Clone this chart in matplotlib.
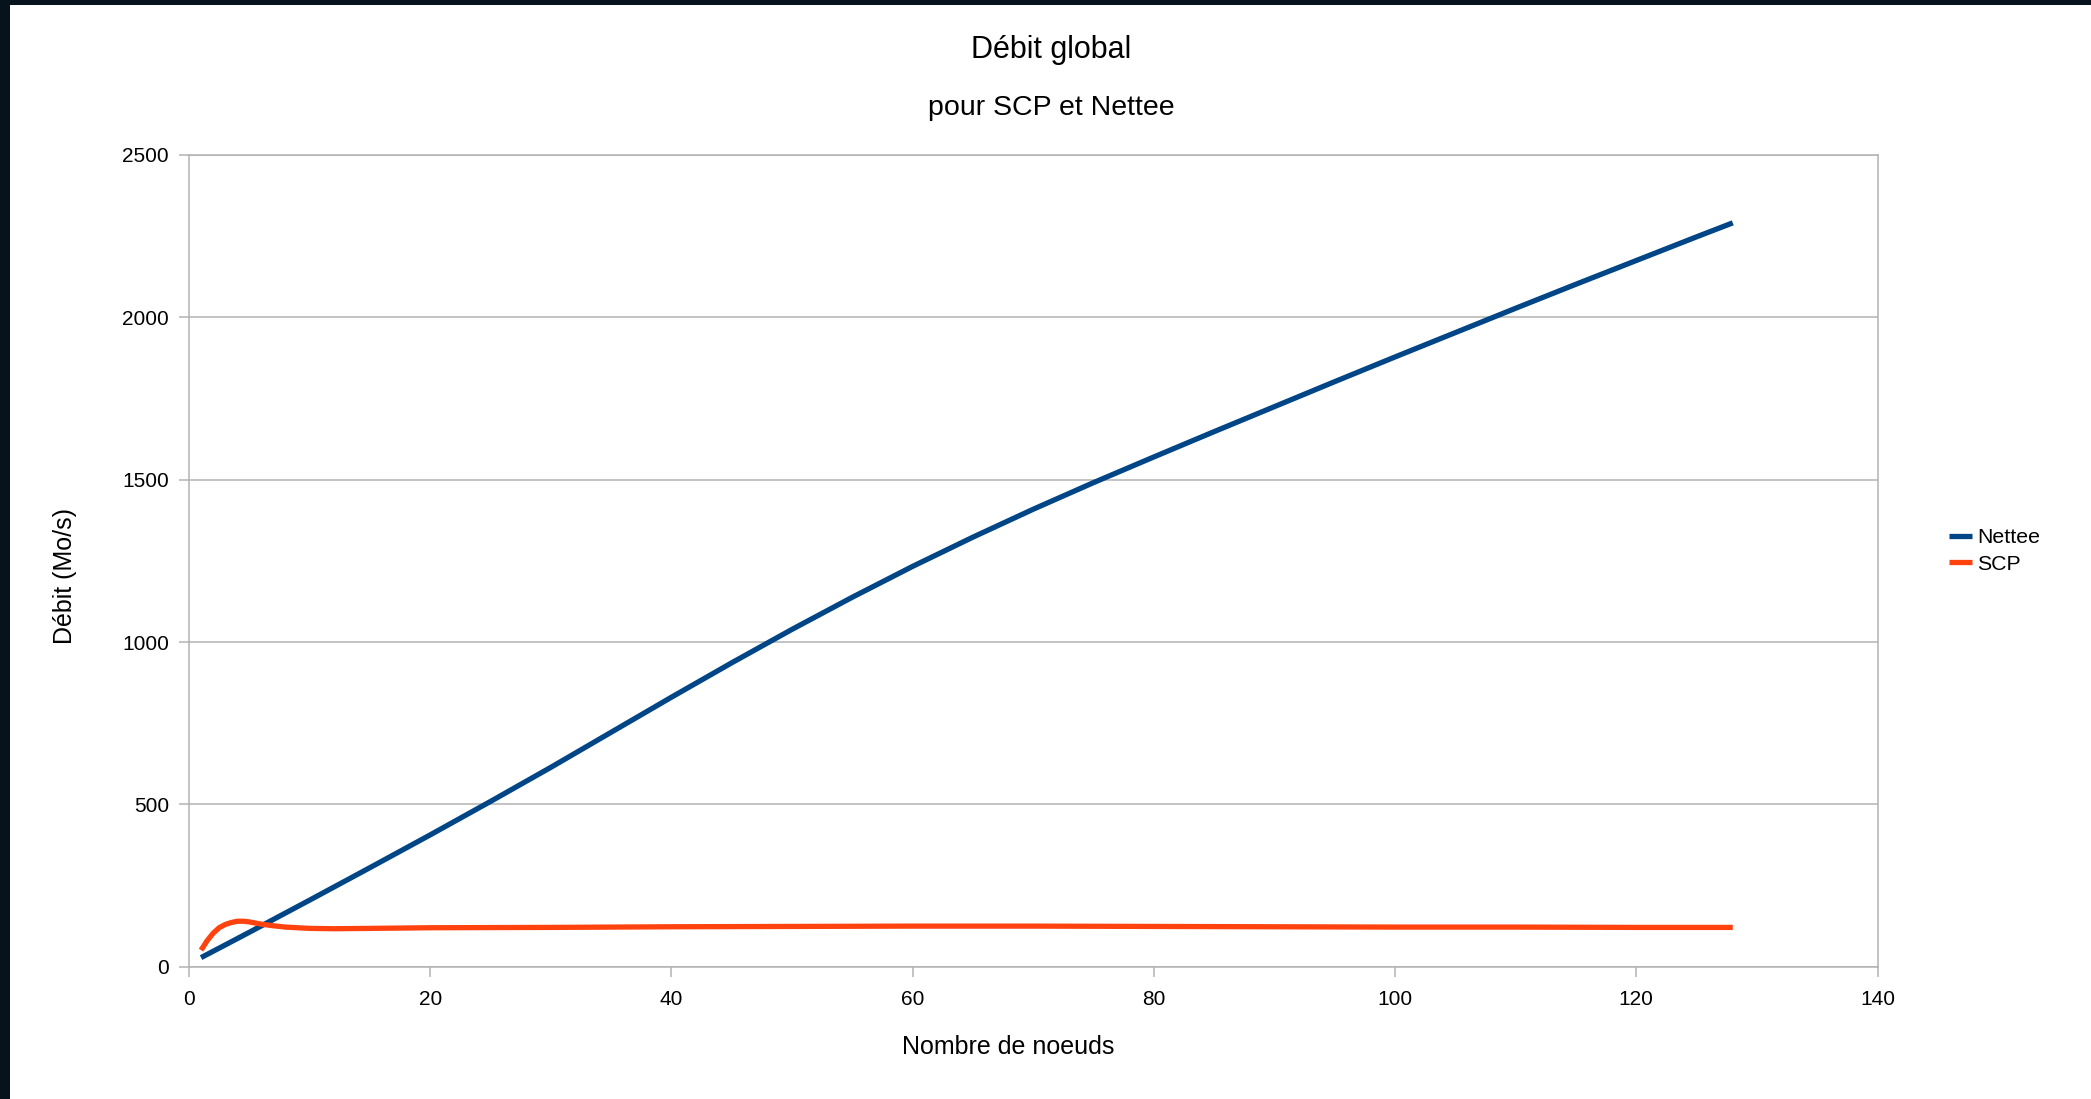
import matplotlib
matplotlib.use("Agg")
import matplotlib.pyplot as plt
from matplotlib.patches import Rectangle

# Global throughput vs number of nodes
nettee_nodes = [1, 5, 10, 15, 20, 25, 30, 35, 40, 45, 50, 55, 60, 65, 70,
                75, 80, 85, 90, 95, 100, 105, 110, 115, 120, 125, 128]
nettee_rate = [28, 106, 205, 305, 406, 509, 614, 722, 830, 936, 1039, 1138,
               1233, 1323, 1409, 1491, 1570, 1648, 1725, 1802, 1878, 1953,
               2028, 2102, 2175, 2248, 2291]

scp_nodes = [1, 1.5, 2, 2.5, 3, 3.5, 4, 4.5, 5, 6, 7, 8, 10, 12, 15, 20, 30, 40,
             50, 60, 70, 80, 90, 100, 110, 120, 128]
scp_rate = [51, 80, 103, 120, 130, 136, 140, 140, 138, 131, 126, 122, 118, 117,
            118, 120, 121, 123, 124, 125, 125, 124, 123, 122, 122, 121, 121]

series_labels = ["Nettee", "SCP"]
x_ticks = [0, 20, 40, 60, 80, 100, 120, 140]
y_ticks = [0, 500, 1000, 1500, 2000, 2500]

W, H, DPI = 2091, 1099, 100
plt.rcParams["font.family"] = ["Liberation Sans", "DejaVu Sans"]

fig = plt.figure(figsize=(W / DPI, H / DPI), dpi=DPI, facecolor="white")

# dark window edge on the left and top
fig.patches.append(Rectangle((0, 0), 10 / W, 1, transform=fig.transFigure,
                             facecolor="#06121c", edgecolor="none", zorder=0))
fig.patches.append(Rectangle((0, 1 - 5 / H), 1, 5 / H, transform=fig.transFigure,
                             facecolor="#06121c", edgecolor="none", zorder=0))

left, right, top, bottom = 189, 1877.5, 155, 966.7
ax = fig.add_axes([left / W, 1 - bottom / H, (right - left) / W, (bottom - top) / H])

grid_col = "#b3b3b3"
ax.plot(nettee_nodes, nettee_rate, color="#004586", lw=3.8,
        solid_capstyle="butt", solid_joinstyle="round",
        label=series_labels[0], zorder=3)
ax.plot(scp_nodes, scp_rate, color="#ff420e", lw=3.8,
        solid_capstyle="butt", solid_joinstyle="round",
        label=series_labels[1], zorder=3)

ax.set_xlim(0, 140)
ax.set_ylim(0, 2500)
ax.set_xticks(x_ticks)
ax.set_yticks(y_ticks)
ax.yaxis.grid(True, color=grid_col, lw=1.1)
ax.set_axisbelow(True)
for s in ax.spines.values():
    s.set_color(grid_col)
    s.set_linewidth(1.1)
ax.tick_params(axis="both", direction="out", length=7.5, width=1.1,
               color=grid_col, labelsize=15, labelcolor="black")
ax.tick_params(axis="y", pad=7)
ax.tick_params(axis="x", pad=9)

fig.text(1051 / W, 1 - 50 / H, "Débit global", ha="center", va="center", fontsize=22)
fig.text(1051 / W, 1 - 108 / H, "pour SCP et Nettee", ha="center", va="center", fontsize=20.5)
fig.text(1008 / W, 1 - 1047 / H, "Nombre de noeuds", ha="center", va="center", fontsize=18)
fig.text(65 / W, 1 - 576 / H, "Débit (Mo/s)", ha="center", va="center",
         rotation=90, fontsize=18)

fig.legend(loc="center left", bbox_to_anchor=(1940 / W, 1 - 551 / H),
           frameon=False, fontsize=15.3, handlelength=1.1, handletextpad=0.25,
           labelspacing=0.35, borderaxespad=0)

fig.savefig("out.png", dpi=DPI, facecolor="white")
